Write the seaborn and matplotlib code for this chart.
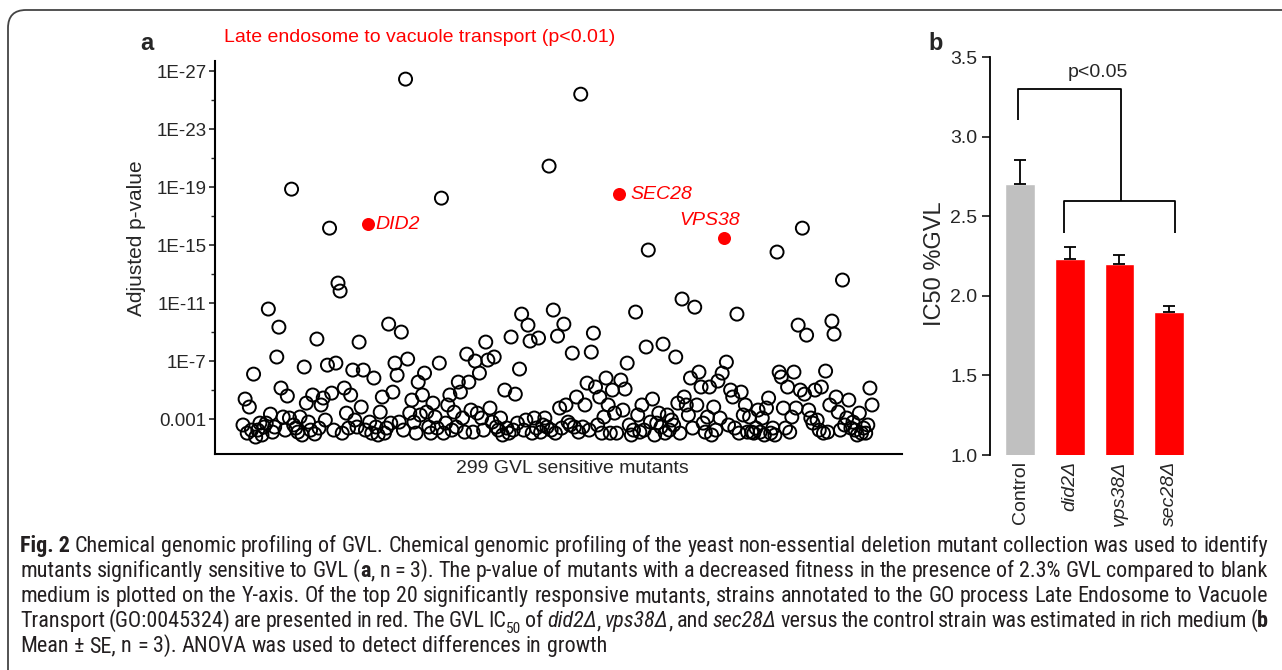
import re
import numpy as np
import pandas as pd
import seaborn as sns
import matplotlib
matplotlib.use("Agg")
import matplotlib.pyplot as plt
from matplotlib import font_manager
from matplotlib.font_manager import FontProperties
from matplotlib.patches import FancyBboxPatch
from matplotlib.transforms import IdentityTransform

# ---------------- data ----------------
# panel a: -log10(adjusted p-value) of the 299 GVL sensitive mutants, in plot order
neg_log10_p = [
    2.59, 4.38, 2.03, 3.83, 2.24, 6.10, 1.76, 2.24, 2.72, 1.90,
    2.45, 2.72, 10.59, 3.34, 2.10, 2.45, 7.28, 9.34, 5.14, 3.14,
    2.24, 4.59, 3.07, 18.86, 2.59, 2.38, 2.10, 3.14, 1.90, 6.59,
    4.10, 2.79, 2.24, 4.66, 1.97, 8.52, 2.38, 3.97, 4.45, 2.93,
    6.72, 16.17, 4.79, 2.24, 6.86, 12.38, 11.83, 2.03, 5.14, 3.41,
    2.38, 4.66, 6.38, 2.93, 2.45, 8.31, 3.83, 6.38, 2.24,
    16.45, 2.79, 2.03, 5.83, 2.45, 1.90, 3.48, 4.52, 2.03, 2.38,
    9.55, 2.72, 4.86, 6.86, 6.03, 2.79, 9.00, 2.24, 26.45, 7.14,
    3.41, 4.31, 2.79, 2.03, 5.55, 3.28, 4.66, 6.17, 3.48, 2.45,
    2.03, 4.10, 3.14, 2.38, 6.86, 18.24, 2.03, 2.72, 3.97, 4.66,
    2.24, 3.48, 2.45, 5.55, 4.86, 3.07, 2.10, 7.48, 5.55, 3.62,
    2.10, 7.00, 3.41, 6.17, 3.07, 2.24, 8.31,
    7.07, 3.76, 2.79, 7.28, 2.45, 2.24, 3.07, 1.90, 5.00, 2.38,
    2.03, 8.66, 2.24, 4.72, 2.72, 6.45, 10.24, 2.24, 2.93, 9.48,
    8.38, 2.03, 3.07, 2.38, 8.59, 2.10, 2.59, 3.07, 2.45, 20.45,
    2.24, 10.52, 2.03, 8.72, 3.76, 2.38, 9.55, 3.97, 2.79, 2.59,
    7.55, 2.45, 4.52, 2.10, 25.41, 2.45, 3.97, 5.48, 2.24, 7.62,
    8.93, 5.21, 2.59, 4.52, 2.03, 3.14, 5.83, 3.97, 2.03, 5.00,
    3.41,
    2.03, 18.52, 5.69, 3.62, 5.07, 6.86, 2.59, 1.90, 2.24, 10.38,
    3.28, 2.10, 3.97, 2.24, 7.97, 14.66, 2.79, 4.38, 1.90, 2.72,
    3.41, 2.45, 8.17, 2.03, 3.28, 2.24, 2.93, 2.59, 7.28, 4.10,
    2.03, 11.28, 4.52, 3.97, 3.28, 5.83, 2.38, 10.72, 3.97, 6.24,
    5.21, 2.72, 2.10, 3.14, 5.21, 1.90, 3.83, 2.24, 5.62, 3.07,
    6.17, 15.48, 6.93, 2.59, 5.00, 4.52, 2.38, 10.24, 2.03, 4.86,
    3.28,
    3.97, 2.10, 3.14, 2.10, 2.03, 2.38, 3.62, 2.10, 3.07, 1.90,
    3.76, 4.45, 2.03, 2.38, 1.90, 14.52, 6.24, 5.90, 3.76, 2.38,
    5.21, 2.10, 3.14, 6.24, 3.76, 9.48, 5.00, 16.17, 4.72, 8.79,
    3.62, 3.07, 2.72, 5.00, 2.93, 2.24, 5.21, 2.03, 6.31, 2.10,
    3.97, 9.76, 8.86, 4.52, 3.48, 2.24, 12.59, 2.59, 3.07, 4.31,
    2.38, 2.79, 2.24, 1.90, 3.41, 2.03, 2.38, 2.03, 2.59, 5.14,
    3.97,
]
highlight_genes = ["DID2", "SEC28", "VPS38"]
highlight_rank = [60, 179, 229]

y_tick_vals = [3, 7, 11, 15, 19, 23, 27]
y_tick_labels = ["0.001", "1E-7", "1E-11", "1E-15", "1E-19", "1E-23", "1E-27"]

# panel b: IC50 (%GVL), mean and SE
strains = ["Control", "did2\u0394", "vps38\u0394", "sec28\u0394"]
ic50_mean = [2.70, 2.23, 2.20, 1.90]
ic50_se = [0.15, 0.075, 0.055, 0.038]
strain_colors = ["#c0c0c0", "#ff0000", "#ff0000", "#ff0000"]
b_ticks = [1.0, 1.5, 2.0, 2.5, 3.0, 3.5]

# caption (markup: **bold**, _italic_, ~subscript~)
caption_lines = [
    "**Fig.\u00a02** Chemical genomic profiling of GVL. Chemical genomic profiling of the yeast non-essential deletion mutant collection was used to identify",
    "mutants significantly sensitive to GVL (**a**, n = 3). The p-value of mutants with a decreased fitness in the presence of 2.3% GVL compared to blank",
    "medium is plotted on the Y-axis. Of the top 20 significantly responsive mutants, strains annotated to the GO process Late Endosome to Vacuole",
    "Transport (GO:0045324) are presented in red. The GVL IC~50~ of _did2\u0394_, _vps38\u0394_, and _sec28\u0394_ versus the control strain was estimated in rich medium (**b**",
    "Mean \u00b1 SE, n = 3). ANOVA was used to detect differences in growth",
]
caption_justify = [True, True, True, True, False]

# ---------------- style ----------------
sns.set_style("ticks")
plt.rcParams["font.family"] = ["Liberation Sans", "DejaVu Sans"]
avail = {f.name for f in font_manager.fontManager.ttflist}
cap_family = next((f for f in ["Liberation Sans Narrow", "Roboto Condensed", "Open Sans Condensed"] if f in avail), "Liberation Sans")

W, H = 1282, 670
fig = plt.figure(figsize=(W / 100, H / 100), dpi=100)

def fx(px):
    return px / W

def fy(py):
    return 1 - py / H

# ---------------- panel a ----------------
ax = fig.add_axes([fx(215), fy(454), fx(902 - 215), (454 - 61) / H])
df = pd.DataFrame({"rank": np.arange(1, len(neg_log10_p) + 1), "nlp": neg_log10_p})
df["gene"] = ""
for g, r in zip(highlight_genes, highlight_rank):
    df.loc[df["rank"] == r, "gene"] = g
black = df[df["gene"] == ""]
red = df[df["gene"] != ""]
sns.scatterplot(data=black, x="rank", y="nlp", ax=ax, s=88, marker="o",
                facecolors="none", edgecolor="black", linewidth=1.4, legend=False)
sns.scatterplot(data=red, x="rank", y="nlp", ax=ax, s=88, marker="o",
                color="#ff0000", linewidth=0, legend=False, zorder=3)
offsets = {"DID2": (8, 0, "left"), "SEC28": (12, 0, "left"), "VPS38": (16, 18, "right")}
for _, row in red.iterrows():
    dx, dy, ha = offsets[row["gene"]]
    ax.annotate(row["gene"], xy=(row["rank"], row["nlp"]), xytext=(dx, dy),
                textcoords="offset pixels", ha=ha, va="center", color="#ff0000",
                style="italic", fontsize=14)

ax.set_xlim(-12.27, 313.2)
ax.set_ylim(0.59, 27.7)
ax.set_yticks(y_tick_vals)
ax.set_yticklabels(y_tick_labels, fontsize=13.5)
ax.set_yticks([5, 9, 13, 17, 21, 25], minor=True)
ax.set_xticks([])
ax.tick_params(axis="y", which="major", length=4, width=1.2, direction="out", pad=2)
ax.tick_params(axis="y", which="minor", length=3, width=1.0, direction="out")
for side in ["top", "right"]:
    ax.spines[side].set_visible(False)
for side in ["left", "bottom"]:
    ax.spines[side].set_linewidth(1.5)
    ax.spines[side].set_color("black")
ax.set_xlabel("299 GVL sensitive mutants", fontsize=14)
ax.xaxis.set_label_coords(0.52, -0.015)
ax.xaxis.label.set_va("top")
ax.set_ylabel("Adjusted p-value", fontsize=15)
ax.yaxis.set_label_coords(-0.100, 0.55)

# ---------------- panel b ----------------
axb = fig.add_axes([fx(990), fy(455), fx(1205 - 990), (455 - 57) / H])
dfb = pd.DataFrame({"strain": strains, "ic50": ic50_mean})
sns.barplot(data=dfb, x="strain", y="ic50", hue="strain", palette=strain_colors,
            width=0.6, ax=axb, legend=False, errorbar=None, saturation=1)
axb.errorbar(np.arange(len(strains)), ic50_mean,
             yerr=[np.zeros(len(strains)), ic50_se], fmt="none", ecolor="black",
             elinewidth=1.3, capsize=4, capthick=1.3, zorder=4)
axb.set_ylim(1.0, 3.5)
axb.set_xlim(-0.604, 3.72)
axb.set_yticks(b_ticks)
axb.set_yticklabels([f"{t:.1f}" for t in b_ticks], fontsize=14)
axb.set_xticks(range(len(strains)))
axb.set_xticklabels(strains, rotation=90, fontsize=14)
for i, lab in enumerate(axb.get_xticklabels()):
    if i > 0:
        lab.set_style("italic")
axb.tick_params(axis="x", length=0, pad=4)
axb.tick_params(axis="y", length=6, width=1.3, direction="out", pad=3)
for side in ["top", "right", "bottom"]:
    axb.spines[side].set_visible(False)
axb.spines["left"].set_linewidth(1.3)
axb.spines["left"].set_color("black")
axb.set_xlabel("")
axb.set_ylabel("IC50 %GVL", fontsize=17)
axb.yaxis.set_label_coords(-0.205, 0.48)

# significance brackets
kw = dict(color="black", lw=1.3, clip_on=False, solid_capstyle="butt")
axb.plot([-0.04, -0.04, 2.03, 2.03], [3.104, 3.30, 3.30, 2.595], **kw)
axb.plot([0.885, 0.885, 3.12, 3.12], [2.394, 2.595, 2.595, 2.394], **kw)
axb.text(1.57, 3.40, "p<0.05", ha="center", va="center", fontsize=14)

# ---------------- panel labels and title ----------------
fig.text(fx(140), fy(43), "a", fontsize=17, fontweight="bold", va="center", ha="left")
fig.text(fx(928), fy(43), "b", fontsize=17, fontweight="bold", va="center", ha="left")
fig.text(fx(224), fy(37), "Late endosome to vacuole transport (p<0.01)", color="#ff0000",
         fontsize=14, va="center", ha="left")

# ---------------- caption (justified, mixed styles) ----------------
renderer = fig.canvas.get_renderer()

def parse_word(w):
    runs = []
    for m in re.finditer(r"\*\*(.+?)\*\*|_(.+?)_|~(.+?)~|([^*_~]+)", w):
        if m.group(1):
            runs.append((m.group(1), "bold"))
        elif m.group(2):
            runs.append((m.group(2), "italic"))
        elif m.group(3):
            runs.append((m.group(3), "sub"))
        else:
            runs.append((m.group(4), "normal"))
    return runs

def run_prop(kind, size):
    fam = [cap_family, "DejaVu Sans"]
    if kind == "bold":
        return FontProperties(family=fam, weight="bold", size=size)
    if kind == "italic":
        return FontProperties(family=fam, style="italic", size=size)
    if kind == "sub":
        return FontProperties(family=fam, size=size * 0.7)
    return FontProperties(family=fam, size=size)

def text_w(s, prop):
    w, h, d = renderer.get_text_width_height_descent(s, prop, ismath=False)
    return w

def word_w(runs, size):
    return sum(text_w(t, run_prop(k, size)) for t, k in runs)

def space_w(size):
    p = run_prop("normal", size)
    return text_w("x x", p) - text_w("xx", p)

base = 13.0
parsed = [[parse_word(w) for w in line.split(" ") if w] for line in caption_lines]
natural = [sum(word_w(ws, base) for ws in words) + space_w(base) * (len(words) - 1) for words in parsed]
target = 1248.0
# font size set by the first line; other lines compress their spaces (or shrink slightly)
size_main = base * (target - 2) / natural[0]

cap_baseline = [552, 577, 602, 627, 652]
x0 = 20.0
for words, just, yb in zip(parsed, caption_justify, cap_baseline):
    size = size_main
    for _ in range(20):
        widths = [word_w(ws, size) for ws in words]
        sp = space_w(size)
        if not just:
            gap = sp
            break
        gap = (target - sum(widths)) / (len(words) - 1)
        if gap >= 0.6 * sp:
            break
        size *= 0.99
    x = x0
    for ws, wd in zip(words, widths):
        xx = x
        for t, k in ws:
            prop = run_prop(k, size)
            dy = -0.28 * size * 100 / 72 if k == "sub" else 0.0
            fig.text(fx(xx), fy(yb - dy), t, fontproperties=prop, va="baseline",
                     ha="left", color="#231f20")
            xx += text_w(t, prop)
        x += wd + gap

# ---------------- frame ----------------
frame = FancyBboxPatch((8, -200), 1600, 200 + (H - 10), boxstyle="round,pad=0,rounding_size=18",
                       transform=IdentityTransform(), fill=False, ec="#444444", lw=1.3)
fig.patches.append(frame)

fig.savefig("out.png", dpi=100)
